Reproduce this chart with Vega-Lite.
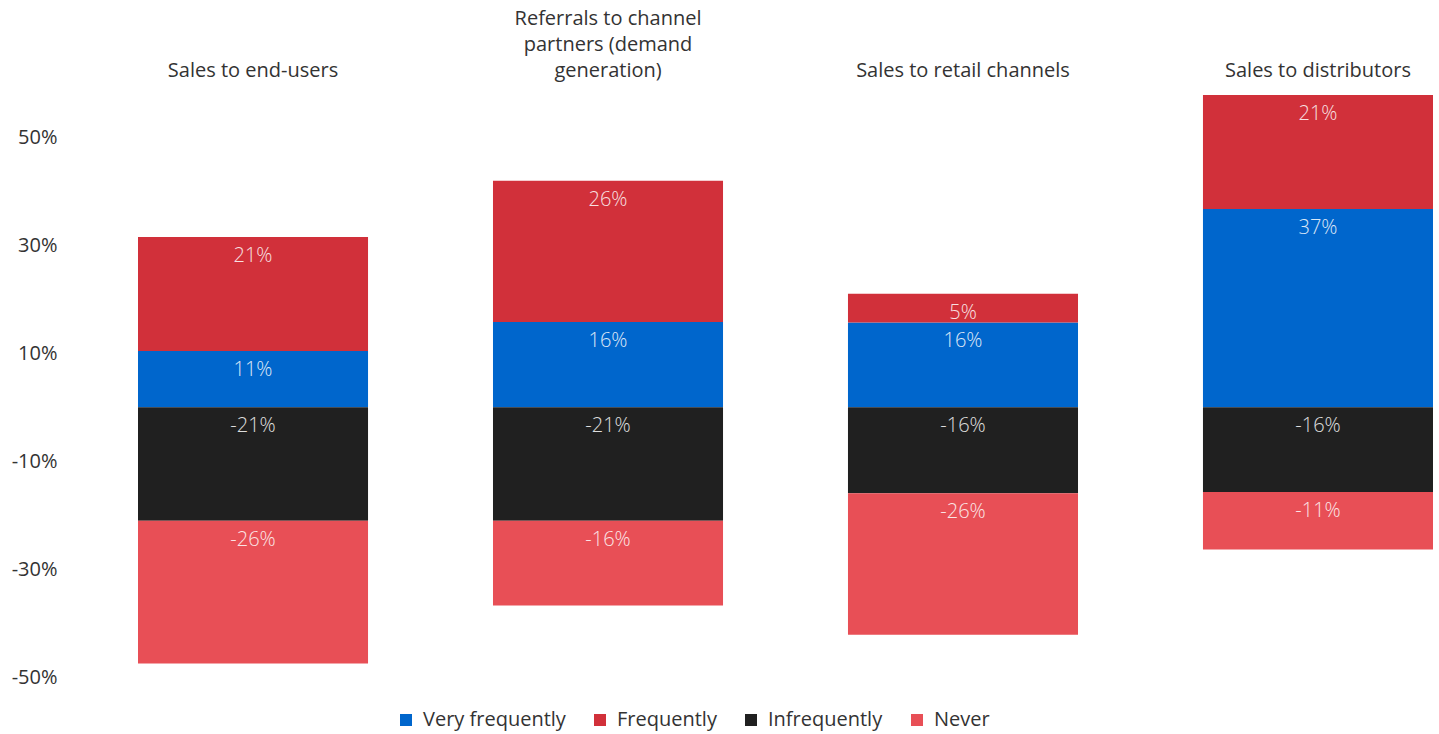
{
  "$schema": "https://vega.github.io/schema/vega-lite/v6.json",
  "width": 1295,
  "height": 594.5,
  "autosize": {"type": "none"},
  "padding": {"left": 138, "top": 83, "right": 6, "bottom": 56},
  "background": "white",
  "config": {"view": {"stroke": null}, "font": "Open Sans"},
  "data": {
    "values": [
      {"category": "Sales to end-users", "series": "Very frequently", "value": 0.104, "label": "11%"},
      {"category": "Sales to end-users", "series": "Frequently", "value": 0.211, "label": "21%"},
      {"category": "Sales to end-users", "series": "Infrequently", "value": -0.210, "label": "-21%"},
      {"category": "Sales to end-users", "series": "Never", "value": -0.264, "label": "-26%"},
      {"category": "Referrals to channel partners (demand generation)", "series": "Very frequently", "value": 0.158, "label": "16%"},
      {"category": "Referrals to channel partners (demand generation)", "series": "Frequently", "value": 0.261, "label": "26%"},
      {"category": "Referrals to channel partners (demand generation)", "series": "Infrequently", "value": -0.210, "label": "-21%"},
      {"category": "Referrals to channel partners (demand generation)", "series": "Never", "value": -0.157, "label": "-16%"},
      {"category": "Sales to retail channels", "series": "Very frequently", "value": 0.157, "label": "16%"},
      {"category": "Sales to retail channels", "series": "Frequently", "value": 0.053, "label": "5%"},
      {"category": "Sales to retail channels", "series": "Infrequently", "value": -0.159, "label": "-16%"},
      {"category": "Sales to retail channels", "series": "Never", "value": -0.262, "label": "-26%"},
      {"category": "Sales to distributors", "series": "Very frequently", "value": 0.367, "label": "37%"},
      {"category": "Sales to distributors", "series": "Frequently", "value": 0.211, "label": "21%"},
      {"category": "Sales to distributors", "series": "Infrequently", "value": -0.157, "label": "-16%"},
      {"category": "Sales to distributors", "series": "Never", "value": -0.106, "label": "-11%"}
    ]
  },
  "transform": [
    {"calculate": "indexof(['Very frequently','Frequently','Infrequently','Never'], datum.series)", "as": "rank"},
    {"stack": "value", "groupby": ["category"], "sort": [{"field": "rank", "order": "ascending"}], "as": ["v0", "v1"]},
    {"calculate": "max(datum.v0, datum.v1)", "as": "top"}
  ],
  "encoding": {
    "x": {
      "field": "category",
      "type": "nominal",
      "sort": null,
      "scale": {"paddingInner": 0.352, "paddingOuter": 0},
      "axis": {
        "orient": "top",
        "title": null,
        "domain": false,
        "ticks": false,
        "tickSize": 0,
        "labelPadding": {"condition": {"test": "datum.value == 'Referrals to channel partners (demand generation)'", "value": 55}, "value": 3},
        "labelAngle": 0,
        "labelFontSize": 20,
        "labelColor": "#333333",
        "labelBaseline": "bottom",
        "labelLineHeight": 26,
        "labelLimit": 400,
        "labelExpr": "datum.value == 'Referrals to channel partners (demand generation)' ? ['Referrals to channel', 'partners (demand', 'generation)'] : datum.label"
      }
    }
  },
  "layer": [
    {
      "mark": {"type": "bar"},
      "encoding": {
        "y": {
          "field": "v1",
          "type": "quantitative",
          "scale": {"domain": [-0.5, 0.6], "nice": false, "zero": false},
          "axis": {
            "title": null,
            "values": [-0.5, -0.3, -0.1, 0.1, 0.3, 0.5],
            "format": ".0%",
            "labelExpr": "replace(datum.label, '\u2212', '-')",
            "grid": false,
            "domain": false,
            "ticks": false,
            "tickSize": 0,
            "labelPadding": 81,
            "labelFontSize": 20,
            "labelColor": "#333333"
          }
        },
        "y2": {"field": "v0"},
        "color": {
          "field": "series",
          "type": "nominal",
          "scale": {
            "domain": ["Very frequently", "Frequently", "Infrequently", "Never"],
            "range": ["#0066CC", "#D1303A", "#202020", "#E84F56"]
          },
          "legend": {
            "orient": "none",
            "legendX": 258,
            "legendY": 627,
            "direction": "horizontal",
            "title": null,
            "symbolType": "square",
            "symbolSize": 144,
            "symbolStrokeWidth": 0,
            "labelFontSize": 20,
            "labelColor": "#333333",
            "columnPadding": 24,
            "labelOffset": 7
          }
        }
      }
    },
    {
      "mark": {"type": "text", "baseline": "middle", "dy": 19, "fontSize": 20, "fontWeight": 300, "color": "white", "opacity": 0.85},
      "encoding": {
        "y": {"field": "top", "type": "quantitative"},
        "text": {"field": "label"}
      }
    }
  ]
}
